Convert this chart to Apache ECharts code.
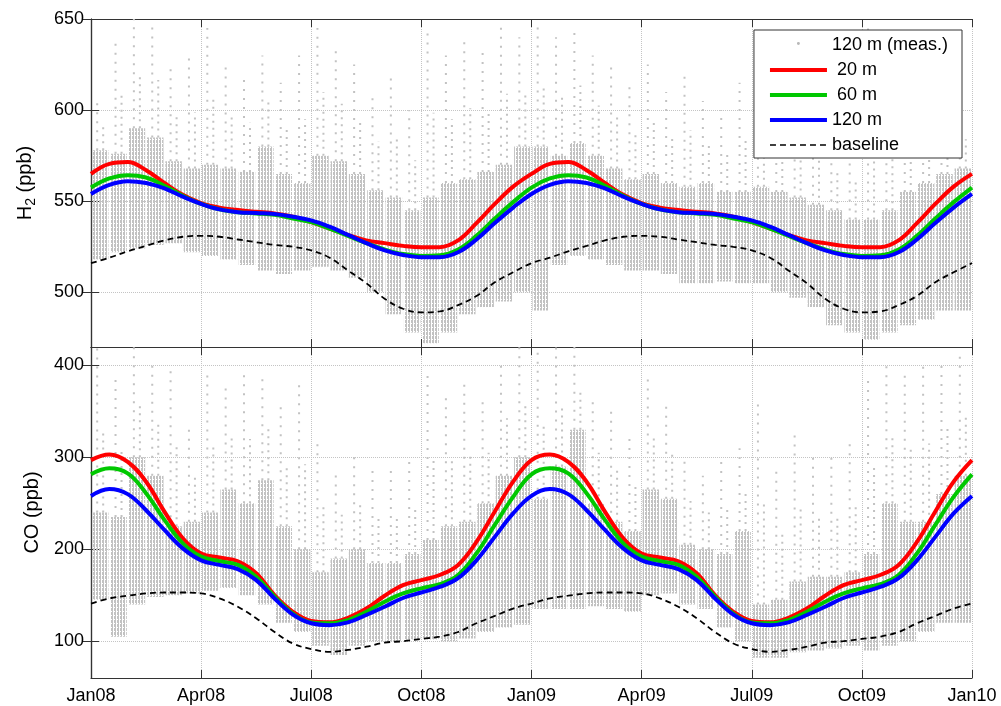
<!DOCTYPE html>
<html>
<head>
<meta charset="utf-8">
<script src="https://cdn.jsdelivr.net/npm/echarts@6/dist/echarts.min.js"></script>
<style>
html, body { margin: 0; padding: 0; background: #fff; }
#main { width: 1001px; height: 706px; }
</style>
</head>
<body>
<div id="main"></div>
<script>
// months since Jan 2008
var curveMonths = [0,0.5,1,1.5,2,2.5,3,3.5,4,4.5,5,5.5,6,6.5,7,7.5,8,8.5,9,9.5,10,10.5,11,11.5,
    12,12.5,13,13.5,14,14.5,15,15.5,16,16.5,17,17.5,18,18.5,19,19.5,20,20.5,21,21.5,22,22.5,23,23.5,24];
var binMonths = [0.25,0.75,1.25,1.75,2.25,2.75,3.25,3.75,4.25,4.75,5.25,5.75,6.25,6.75,7.25,7.75,8.25,8.75,9.25,9.75,10.25,10.75,11.25,11.75,
    12.25,12.75,13.25,13.75,14.25,14.75,15.25,15.75,16.25,16.75,17.25,17.75,18.25,18.75,19.25,19.75,20.25,20.75,21.25,21.75,22.25,22.75,23.25,23.75];
var xLabels = ['Jan08','Apr08','Jul08','Oct08','Jan09','Apr09','Jul09','Oct09','Jan10'];
var h2Ticks = [500, 550, 600, 650];
var coTicks = [100, 200, 300, 400];

// H2 fitted curves (ppb)
var h2_20 = [565,570.5,571.5,567,560,553.5,549,546.5,545.2,544.2,543.3,541.5,538.5,535,531.5,528.5,527,525.5,524.7,524.8,528.5,538,548.5,558,
    565,570.5,571.5,567,560,553.5,549,546.5,545.2,544.2,543.3,541.5,538.5,535,531.5,528.5,527,525.5,524.7,524.8,528.5,538,548.5,558,565];
var h2_60 = [557.5,562.5,564.3,563,558.5,553,548.5,545.5,544,543.3,542.5,540.5,538.5,535,531,527,523.5,521,520,520.3,523.5,531,540.5,549.5,
    557.5,562.5,564.3,563,558.5,553,548.5,545.5,544,543.3,542.5,540.5,538.5,535,531,527,523.5,521,520,520.3,523.5,531,540.5,549.5,557.5];
var h2_120 = [554,559,561,560,557,552.5,548.5,545.5,544,543.5,543,541.5,539.5,536,531.5,527,523,520.5,519.3,519.3,522,529,538,546.5,
    554,559,561,560,557,552.5,548.5,545.5,544,543.5,543,541.5,539.5,536,531.5,527,523,520.5,519.3,519.3,522,529,538,546.5,554];
var h2_base = [516,519,522.5,525.5,528.5,530.5,531,530.5,529,527.5,526,525,523,519,512,505,496.5,491,489,489.5,493,498,505.5,511,
    516,519,522.5,525.5,528.5,530.5,531,530.5,529,527.5,526,525,523,519,512,505,496.5,491,489,489.5,493,498,505.5,511,516];

// CO fitted curves (ppb)
var co_20 = [297,303,295,273.5,241,212,195.5,191,187,174,150,132,122,120.5,125.5,135.5,149.5,161,166.5,172,183,208,241,273.5,
    297,303,295,273.5,241,212,195.5,191,187,174,150,132,122,120.5,125.5,135.5,149.5,161,166.5,172,183,208,241,273.5,297];
var co_60 = [281.5,288,282.5,261,232,206.5,192,187,183,170,148.5,130,120.5,119.5,123,132,143,152,157.5,162,172,195.5,226.5,257,
    281.5,288,282.5,261,232,206.5,192,187,183,170,148.5,130,120.5,119.5,123,132,143,152,157.5,162,172,195.5,226.5,257,281.5];
var co_120 = [258,265.5,260,242.5,221,201,188,183,178.5,166.5,146.5,129,119.5,117.5,120.5,128.5,137.5,147,153,159,168.5,188,213.5,239,
    258,265.5,260,242.5,221,201,188,183,178.5,166.5,146.5,129,119.5,117.5,120.5,128.5,137.5,147,153,159,168.5,188,213.5,239,258];
var co_base = [141,146.5,149.5,152,153,153,152,146.5,137.5,125,110,97.5,91.5,88.5,90.5,94,98.5,100,102.5,105,110,119.5,127.5,135.5,
    141,146.5,149.5,152,153,153,152,146.5,137.5,125,110,97.5,91.5,88.5,90.5,94,98.5,100,102.5,105,110,119.5,127.5,135.5,141];

// 120 m measurements, per half month: bottom and top of the dense cloud, highest sparse point
var h2Lo = [518,522,524,526,527,522,520,518,515,512,510,512,514,512,508,500,488,478,472,478,488,492,495,500,
    490,515,520,518,515,512,512,510,505,505,506,505,505,500,497,492,482,478,474,478,482,485,490,490];
var h2Hi = [578,576,590,585,572,568,570,568,566,580,565,560,575,572,565,556,552,545,552,560,562,566,570,580,
    580,575,582,575,568,562,565,560,558,560,555,555,558,555,552,548,545,540,540,545,555,560,565,568];
var h2Max = [605,640,650,648,625,630,645,625,620,630,615,630,645,635,625,610,618,600,645,630,640,635,648,640,
    648,640,645,630,625,615,625,610,620,605,600,615,598,600,595,600,590,585,645,610,620,615,620,600];
var coLo = [145,105,140,148,150,152,155,158,150,140,120,110,95,85,95,100,100,102,102,100,103,110,115,118,
    135,135,135,138,135,132,150,152,140,135,115,100,82,82,88,90,92,95,90,95,100,110,120,120];
var coHi = [240,235,300,280,225,230,240,265,250,275,225,200,175,190,200,185,185,195,210,225,230,250,280,300,
    255,290,330,250,230,220,265,255,205,200,195,220,140,145,165,170,170,175,195,250,230,230,260,280];
var coMax = [420,385,420,400,400,330,390,380,390,390,360,385,320,285,300,290,290,300,390,370,380,360,405,420,
    420,420,420,360,350,320,385,360,300,280,300,310,360,290,330,300,300,320,390,400,390,400,405,410];

var font = "'Liberation Sans', Arial, Helvetica, sans-serif";
var frame = '#333';

// streaky texture for the dense part of the measurement cloud
var speckle = document.createElement('canvas');
speckle.width = 3; speckle.height = 4;
var sctx = speckle.getContext('2d');
sctx.fillStyle = '#c2c2c2';
sctx.fillRect(0, 0, 2, 3);
sctx.fillRect(1, 3, 1, 1);

function pairs(ys) {
    var out = [];
    for (var i = 0; i < ys.length; i++) out.push([curveMonths[i], ys[i]]);
    return out;
}
function cloud(lo, hi, mx) {
    var out = [];
    for (var i = 0; i < binMonths.length; i++) out.push([binMonths[i], lo[i], hi[i], mx[i]]);
    return out;
}

function renderCloud(params, api) {
    var m = api.value(0);
    var pLo = api.coord([m, api.value(1)]);
    var pHi = api.coord([m, api.value(2)]);
    var pMax = api.coord([m, api.value(3)]);
    var w = api.size([0.5, 0])[0] * 0.9;
    return {
        type: 'group',
        children: [
            {type: 'line', shape: {x1: pHi[0] - 3, y1: pHi[1], x2: pMax[0] - 3, y2: pMax[1]},
                style: {stroke: '#c2c2c2', lineWidth: 2, lineDash: [2, 7]}},
            {type: 'line', shape: {x1: pHi[0] + 3, y1: pHi[1], x2: pHi[0] + 3, y2: (pHi[1] + pMax[1]) / 2},
                style: {stroke: '#c2c2c2', lineWidth: 2, lineDash: [2, 5]}},
            {type: 'rect', shape: {x: pLo[0] - w / 2, y: pHi[1], width: w, height: pLo[1] - pHi[1]},
                style: {fill: {image: speckle, repeat: 'repeat'}}}
        ]
    };
}

function xAx(grid, pos, labels) {
    return {
        type: 'value', gridIndex: grid, position: pos, min: 0, max: 24, interval: 3,
        axisLine: {show: true, lineStyle: {color: frame, width: 1.2}},
        axisTick: {show: true, inside: true, length: 8, lineStyle: {color: frame}},
        axisLabel: {show: labels, margin: 9, fontFamily: font, fontSize: 18, color: '#000',
            formatter: function (v) { return xLabels[Math.round(v / 3)]; }},
        splitLine: {show: pos === 'bottom', lineStyle: {color: '#c4c4c4', type: 'dotted', width: 1}}
    };
}
function yAx(grid, pos, lo, hi, ticks, name, gap) {
    return {
        type: 'value', gridIndex: grid, position: pos, min: lo, max: hi,
        name: pos === 'left' ? name : '', nameLocation: 'middle', nameGap: gap,
        nameTextStyle: {fontFamily: font, fontSize: 20, color: '#000',
            rich: {
                a: {fontFamily: font, fontSize: 20, lineHeight: 26, color: '#000'},
                b: {fontFamily: font, fontSize: 14, lineHeight: 14, verticalAlign: 'bottom', color: '#000'}
            }},
        axisLine: {show: true, lineStyle: {color: frame, width: 1.2}},
        axisTick: {show: true, inside: true, length: 8, customValues: ticks, lineStyle: {color: frame}},
        axisLabel: {show: pos === 'left', margin: 7, customValues: ticks, fontFamily: font, fontSize: 18, color: '#000'},
        splitLine: {show: pos === 'left', lineStyle: {color: '#c4c4c4', type: 'dotted', width: 1}}
    };
}

function curve(name, data, xi, color, width, dashed) {
    return {
        name: name, type: 'line', xAxisIndex: xi, yAxisIndex: xi, data: data,
        symbol: 'none', smooth: 0.4, silent: true,
        lineStyle: {color: color, width: width, type: dashed ? [6, 4] : 'solid'},
        itemStyle: {color: color}, z: 3
    };
}

var chart = echarts.init(document.getElementById('main'));
var option = {
    animation: false,
    backgroundColor: '#fff',
    grid: [
        {left: 91, top: 19, width: 881, height: 328},
        {left: 91, top: 347, width: 881, height: 331}
    ],
    xAxis: [xAx(0, 'bottom', false), xAx(0, 'top', false), xAx(1, 'bottom', true), xAx(1, 'top', false)],
    yAxis: [
        yAx(0, 'left', 470, 650, h2Ticks, '{a|H}{b|2}{a| (ppb)}', 53),
        yAx(0, 'right', 470, 650, h2Ticks, '', 0),
        yAx(1, 'left', 60, 420, coTicks, 'CO (ppb)', 49),
        yAx(1, 'right', 60, 420, coTicks, '', 0)
    ],
    legend: {
        orient: 'vertical', right: 39, top: 30,
        backgroundColor: '#fff', borderColor: frame, borderWidth: 1,
        padding: [6, 14, 4, 14], itemWidth: 57, itemHeight: 14, itemGap: 7,
        textStyle: {fontFamily: font, fontSize: 18, color: '#000'},
        data: [
            {name: '120 m (meas.)', icon: 'path://M0 0h0.1v0.1h-0.1zM57 14h0.1v0.1h-0.1zM27 5.5a1.5 1.5 0 1 0 3 0a1.5 1.5 0 1 0 -3 0z'},
            {name: ' 20 m', lineStyle: {width: 4}, itemStyle: {opacity: 0}},
            {name: ' 60 m', lineStyle: {width: 4}, itemStyle: {opacity: 0}},
            {name: '120 m', lineStyle: {width: 4}, itemStyle: {opacity: 0}},
            {name: 'baseline', lineStyle: {width: 1.6}, itemStyle: {opacity: 0}}
        ]
    },
    series: [
        {name: '120 m (meas.)', type: 'custom', xAxisIndex: 0, yAxisIndex: 0, clip: true, silent: true,
            renderItem: renderCloud, encode: {x: 0, y: [1, 2, 3]}, itemStyle: {color: '#b8b8b8'},
            data: cloud(h2Lo, h2Hi, h2Max), z: 1},
        {name: '120 m (meas.)', type: 'custom', xAxisIndex: 2, yAxisIndex: 2, clip: true, silent: true,
            renderItem: renderCloud, encode: {x: 0, y: [1, 2, 3]}, itemStyle: {color: '#b8b8b8'},
            data: cloud(coLo, coHi, coMax), z: 1},
        curve('baseline', pairs(h2_base), 0, '#000', 1.8, true),
        curve(' 20 m', pairs(h2_20), 0, '#ff0000', 4),
        curve(' 60 m', pairs(h2_60), 0, '#00c800', 4),
        curve('120 m', pairs(h2_120), 0, '#0000ff', 4),
        curve('baseline', pairs(co_base), 2, '#000', 1.8, true),
        curve(' 20 m', pairs(co_20), 2, '#ff0000', 4),
        curve(' 60 m', pairs(co_60), 2, '#00c800', 4),
        curve('120 m', pairs(co_120), 2, '#0000ff', 4)
    ]
};
chart.setOption(option);
</script>
</body>
</html>
